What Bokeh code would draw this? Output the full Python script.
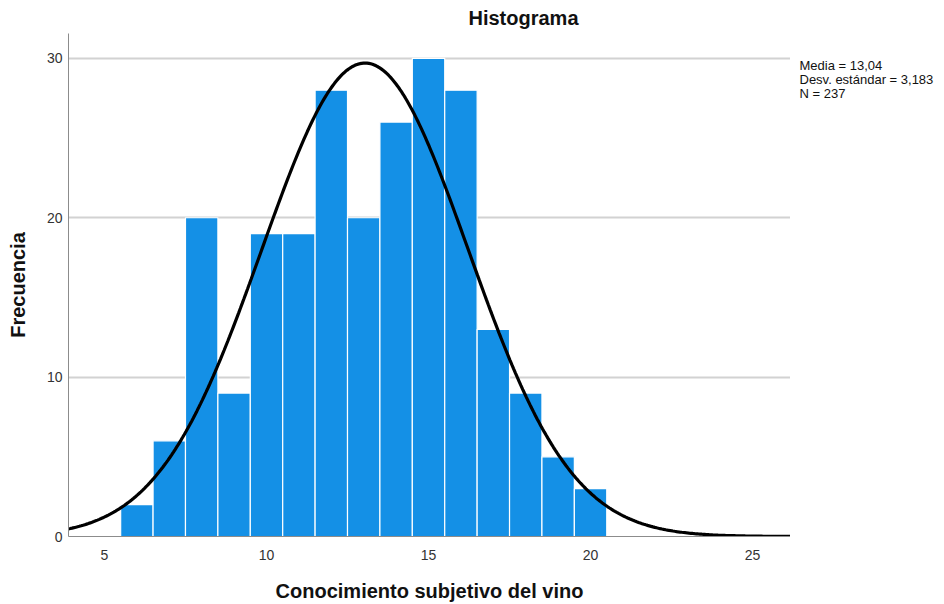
import numpy as np
from bokeh.plotting import figure
from bokeh.models import Label, FixedTicker, Range1d
from bokeh.layouts import row
from bokeh.embed import file_html
from bokeh.resources import INLINE

# Data
bin_centers = [6, 7, 8, 9, 10, 11, 12, 13, 14, 15, 16, 17, 18, 19, 20]
frequencies = [2, 6, 20, 9, 19, 19, 28, 20, 26, 30, 28, 13, 9, 5, 3]
bin_width = 1.0
mean = 13.04
std = 3.183
n = 237
x_ticks = [5, 10, 15, 20, 25]
y_ticks = [0, 10, 20, 30]
stats_text = "Media = 13,04\nDesv. estándar = 3,183\nN = 237"

FONT = "Liberation Sans"

x_lo, x_hi = 3.89, 26.17
y_lo, y_hi = 0, 31.56

p = figure(width=790, height=604, output_backend="svg", toolbar_location=None,
           x_range=Range1d(x_lo, x_hi), y_range=Range1d(y_lo, y_hi),
           min_border_left=68, min_border_right=0, min_border_top=33, min_border_bottom=65)
p.outline_line_color = None
p.background_fill_color = "white"
p.border_fill_color = "white"

p.title.text = "Histograma"
p.title.align = "left"
p.title.offset = 400
p.title.text_font = FONT
p.title.text_font_size = "20px"
p.title.text_font_style = "bold"
p.title.text_color = "#111111"
p.title.standoff = 9

p.xgrid.grid_line_color = None
p.ygrid.ticker = FixedTicker(ticks=[10, 20, 30])
p.ygrid.grid_line_color = "#d2d2d2"
p.ygrid.grid_line_width = 2

for ax in (p.xaxis[0], p.yaxis[0]):
    ax.major_tick_line_color = None
    ax.minor_tick_line_color = None
    ax.major_tick_out = 0
    ax.major_tick_in = 0
    ax.axis_line_color = "#8c8c8c"
    ax.axis_line_width = 1
    ax.major_label_text_font = FONT
    ax.major_label_text_font_size = "14px"
    ax.major_label_text_color = "#333333"
    ax.axis_label_text_font = FONT
    ax.axis_label_text_font_style = "bold"
    ax.axis_label_text_font_size = "20px"
    ax.axis_label_text_color = "#111111"

p.xaxis.ticker = FixedTicker(ticks=x_ticks)
p.yaxis.ticker = FixedTicker(ticks=y_ticks)
p.xaxis.major_label_standoff = 13
p.yaxis.major_label_standoff = 6
p.xaxis.axis_label = "Conocimiento subjetivo del vino"
p.yaxis.axis_label = "Frecuencia"
p.xaxis.axis_label_standoff = 17
p.yaxis.axis_label_standoff = 15

lefts = [c - bin_width / 2 for c in bin_centers]
rights = [c + bin_width / 2 for c in bin_centers]
p.quad(left=lefts, right=rights, bottom=0, top=frequencies,
       fill_color="#1490e6", line_color="white", line_width=1.2)

# Normal curve implied by the stated mean, sd and N
xs = np.linspace(x_lo, x_hi, 400)
ys = n * bin_width / (std * np.sqrt(2 * np.pi)) * np.exp(-0.5 * ((xs - mean) / std) ** 2)
p.line(xs, ys, line_color="black", line_width=3.2)

# Side panel holding the statistics box
side = figure(width=154, height=604, output_backend="svg", toolbar_location=None,
              x_range=Range1d(0, 154), y_range=Range1d(604, 0),
              x_axis_type=None, y_axis_type=None,
              min_border_left=0, min_border_right=0, min_border_top=0, min_border_bottom=0)
side.outline_line_color = None
side.xgrid.visible = False
side.ygrid.visible = False
side.background_fill_color = "white"
side.border_fill_color = "white"
stats = Label(x=9, y=29, text=stats_text,
              text_font=FONT, text_font_size="13px", text_align="left",
              text_baseline="top", text_color="#111111", text_line_height=0.93)
side.add_layout(stats)

layout = row(p, side, spacing=0)
open("out.html", "w").write(file_html(layout, INLINE))
